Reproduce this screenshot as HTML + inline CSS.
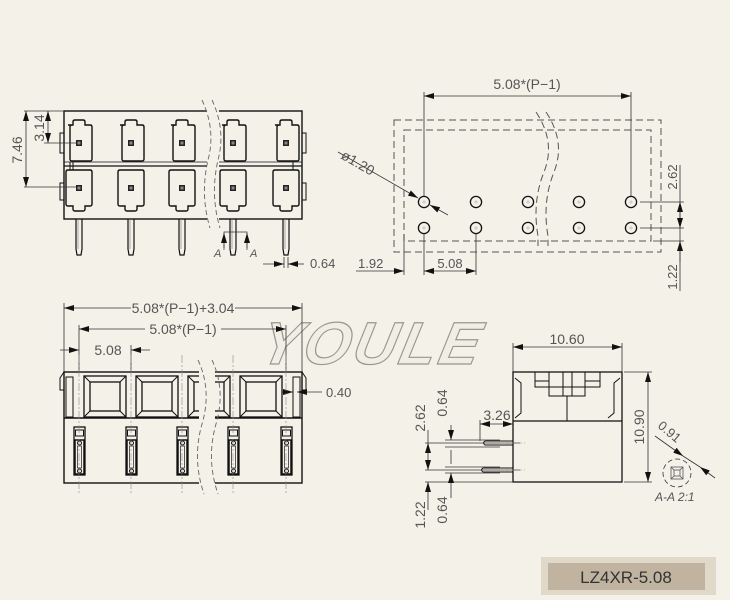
<!DOCTYPE html>
<html><head><meta charset="utf-8"><style>
html,body{margin:0;padding:0;background:#f4f1e8;}
svg{display:block}
text{font-family:"Liberation Sans",sans-serif;fill:#555}
</style></head><body>
<svg width="730" height="600" viewBox="0 0 730 600" xmlns="http://www.w3.org/2000/svg" font-size="12.5">
<defs>
<marker id="ar" viewBox="0 0 10 6" refX="10" refY="3" markerWidth="10" markerHeight="6" orient="auto-start-reverse" markerUnits="userSpaceOnUse"><path d="M0,0 L10,3 L0,6z" fill="#111"/></marker>
<g id="padT"><path d="M-11,-18 h5 v-3 q0,-2 2,-2 h8 q2,0 2,2 v3 h5 q2,0 2,2 v32 q0,2 -2,2 h-18 q-2,0 -2,-2 v-32 q0,-2 2,-2z" fill="none" stroke="#111" stroke-width="1.4"/><rect x="-3" y="-3" width="6" height="6" fill="#222"/><rect x="-1.5" y="-1.5" width="3" height="3" fill="#888"/></g>
<g id="padB"><path d="M-11,-18 h22 q2,0 2,2 v32 q0,2 -2,2 h-5 v3 q0,2 -2,2 h-8 q-2,0 -2,-2 v-3 h-5 q-2,0 -2,-2 v-32 q0,-2 2,-2z" fill="none" stroke="#111" stroke-width="1.4"/><rect x="-3" y="-3" width="6" height="6" fill="#222"/><rect x="-1.5" y="-1.5" width="3" height="3" fill="#888"/></g>
<g id="pin"><path d="M-3,0 v30 l1,6 h4 l1,-6 v-30" fill="none" stroke="#111" stroke-width="1.2"/><line x1="-1" y1="0" x2="-1" y2="30" stroke="#777" stroke-width="0.6"/></g>
<g id="sq"><rect x="0" y="0" width="42" height="41" fill="none" stroke="#111" stroke-width="1.3"/><rect x="6" y="6" width="30" height="29" fill="none" stroke="#111" stroke-width="1.3"/><path d="M0,0 L6,6 M42,0 L36,6 M0,41 L6,35 M42,41 L36,35" stroke="#111"/></g>
<g id="slot"><rect x="-5" y="0" width="11" height="48" fill="none" stroke="#111" stroke-width="1.3"/><rect x="-3.5" y="3" width="8" height="6" fill="none" stroke="#111"/><rect x="-4" y="13" width="9" height="34" fill="none" stroke="#111" stroke-width="1.5"/><rect x="-1.5" y="19" width="4" height="22" fill="none" stroke="#333" stroke-width="0.8"/><circle cx="0.5" cy="16" r="2" fill="none" stroke="#111"/><circle cx="0.5" cy="44" r="2" fill="none" stroke="#111"/></g>
<g id="hole"><circle r="5.6" fill="none" stroke="#111" stroke-width="1.3"/><path d="M-2,0h4M0,-2v4" stroke="#bbb" stroke-width="0.7"/></g>
</defs>

<g stroke="#111" fill="none">
<rect x="64" y="111" width="238" height="108" stroke-width="1.4"/>
<line x1="64" y1="166" x2="302" y2="166" stroke-width="1.2"/>
<line x1="64" y1="162" x2="302" y2="162" stroke-width="0.7"/>
<line x1="70" y1="162" x2="70" y2="170"/><line x1="73" y1="162" x2="73" y2="170"/>
<line x1="293" y1="162" x2="293" y2="170"/>
<rect x="60" y="133" width="4" height="20"/><rect x="60" y="183" width="4" height="17"/>
<rect x="302" y="133" width="4" height="20"/><rect x="302" y="183" width="4" height="17"/>
</g>
<use href="#padT" x="79" y="143"/><use href="#padT" x="131" y="143"/><use href="#padT" x="182" y="143"/><use href="#padT" x="233" y="143"/><use href="#padT" x="286" y="143"/>
<use href="#padB" x="79" y="188"/><use href="#padB" x="131" y="188"/><use href="#padB" x="182" y="188"/><use href="#padB" x="233" y="188"/><use href="#padB" x="286" y="188"/>
<use href="#pin" x="79" y="219"/><use href="#pin" x="131" y="219"/><use href="#pin" x="182" y="219"/><use href="#pin" x="233" y="219"/><use href="#pin" x="286" y="219"/>
<rect x="207" y="100" width="12" height="128" fill="#f4f1e8"/>
<g stroke="#666" fill="none" stroke-dasharray="5,3" stroke-width="0.9">
<path d="M202,100 q14,30 6,60 q-8,35 2,68"/><path d="M212,100 q14,30 6,60 q-8,35 2,68"/>
</g>
<g stroke="#333" stroke-width="0.8" fill="none">
<line x1="24" y1="111" x2="64" y2="111"/><line x1="44" y1="143" x2="76" y2="143"/><line x1="24" y1="187" x2="76" y2="187"/>
<line x1="26" y1="111" x2="26" y2="187" marker-start="url(#ar)" marker-end="url(#ar)"/>
<line x1="48" y1="111" x2="48" y2="143" marker-start="url(#ar)" marker-end="url(#ar)"/>
<path d="M224,250 V232 H247 V250" stroke-width="0.7"/>
<line x1="224" y1="248" x2="224" y2="233" marker-end="url(#ar)"/>
<line x1="247" y1="248" x2="247" y2="233" marker-end="url(#ar)"/>
<line x1="284" y1="257" x2="284" y2="268"/><line x1="288" y1="257" x2="288" y2="268"/>
<line x1="263" y1="264" x2="284" y2="264" marker-end="url(#ar)"/>
<line x1="304" y1="264" x2="288" y2="264" marker-end="url(#ar)"/>
</g>
<text transform="translate(22,150) rotate(-90)" text-anchor="middle" font-size="14">7.46</text>
<text transform="translate(44,128) rotate(-90)" text-anchor="middle" font-size="14">3.14</text>
<text x="214" y="257" font-style="italic" font-size="11">A</text>
<text x="250" y="257" font-style="italic" font-size="11">A</text>
<text x="310" y="268" font-size="13">0.64</text>

<g stroke="#555" fill="none" stroke-dasharray="7,4" stroke-width="1">
<rect x="394" y="120" width="267" height="132"/>
<rect x="404" y="130" width="247" height="111"/>
<path d="M536,112 q20,30 8,60 q-12,30 -6,64 v10" /><path d="M546,112 q20,30 8,60 q-12,30 -6,64 v10"/>
</g>
<use href="#hole" x="424" y="202"/><use href="#hole" x="476" y="202"/><use href="#hole" x="528" y="202"/><use href="#hole" x="579" y="202"/><use href="#hole" x="631" y="202"/>
<use href="#hole" x="424" y="228"/><use href="#hole" x="476" y="228"/><use href="#hole" x="528" y="228"/><use href="#hole" x="579" y="228"/><use href="#hole" x="631" y="228"/>
<g stroke="#333" stroke-width="0.8" fill="none">
<line x1="424" y1="92" x2="424" y2="196"/><line x1="631" y1="92" x2="631" y2="196"/>
<line x1="424" y1="96" x2="631" y2="96" marker-start="url(#ar)" marker-end="url(#ar)"/>
<line x1="338" y1="152" x2="418" y2="198" marker-end="url(#ar)"/>
<line x1="448" y1="215" x2="430" y2="205" marker-end="url(#ar)"/>
<line x1="404" y1="234" x2="404" y2="275"/><line x1="424" y1="234" x2="424" y2="275"/><line x1="476" y1="234" x2="476" y2="275"/>
<line x1="356" y1="271" x2="404" y2="271" marker-end="url(#ar)"/>
<line x1="424" y1="271" x2="476" y2="271" marker-start="url(#ar)" marker-end="url(#ar)"/>
<line x1="640" y1="202" x2="684" y2="202"/><line x1="640" y1="228" x2="684" y2="228"/><line x1="653" y1="241" x2="684" y2="241"/>
<line x1="680" y1="165" x2="680" y2="291"/>
<line x1="680" y1="202" x2="680" y2="228" marker-start="url(#ar)" marker-end="url(#ar)"/>
<line x1="680" y1="262" x2="680" y2="241" marker-end="url(#ar)"/>
</g>
<text x="527" y="89" text-anchor="middle" font-size="14">5.08*(P−1)</text>
<text transform="translate(340,158) rotate(30)" font-size="14">ø1.20</text>
<text x="358" y="268" font-size="13">1.92</text>
<text x="450" y="268" text-anchor="middle" font-size="13">5.08</text>
<text transform="translate(677,177) rotate(-90)" text-anchor="middle" font-size="13">2.62</text>
<text transform="translate(677,277) rotate(-90)" text-anchor="middle" font-size="13">1.22</text>

<text x="258" y="364" font-size="60" font-weight="bold" font-style="italic" transform="skewX(-12) translate(77,0)" style="fill:#f1eee5;stroke:#9a978f;stroke-width:1.2;letter-spacing:3px;font-family:'Liberation Sans',sans-serif">YOULE</text>

<g stroke="#333" stroke-width="0.8" fill="none">
<line x1="64" y1="303" x2="64" y2="372"/><line x1="302" y1="303" x2="302" y2="372"/>
<line x1="64" y1="308" x2="302" y2="308" marker-start="url(#ar)" marker-end="url(#ar)"/>
<line x1="79" y1="325" x2="79" y2="372"/><line x1="286" y1="325" x2="286" y2="372"/>
<line x1="79" y1="329" x2="286" y2="329" marker-start="url(#ar)" marker-end="url(#ar)"/>
<line x1="60" y1="350" x2="79" y2="350" marker-end="url(#ar)"/>
<line x1="150" y1="350" x2="131" y2="350" marker-end="url(#ar)"/>
<line x1="131" y1="345" x2="131" y2="372"/>
<line x1="282" y1="392" x2="293" y2="392" marker-end="url(#ar)"/>
<line x1="322" y1="392" x2="297" y2="392" marker-end="url(#ar)"/>
</g>
<rect x="131" y="300" width="104" height="15" fill="#f4f1e8"/>
<rect x="145" y="321" width="76" height="15" fill="#f4f1e8"/>
<rect x="92" y="342" width="32" height="15" fill="#f4f1e8"/>
<text x="183" y="313" text-anchor="middle" font-size="14">5.08*(P−1)+3.04</text>
<text x="183" y="334" text-anchor="middle" font-size="14">5.08*(P−1)</text>
<text x="108" y="355" text-anchor="middle" font-size="14">5.08</text>
<text x="326" y="397" font-size="13">0.40</text>
<g stroke="#111" fill="none" stroke-width="1.4">
<rect x="64" y="372" width="238" height="111"/>
<line x1="64" y1="418" x2="302" y2="418"/>
<path d="M64,372 l-4,6 v12 h4 M302,372 l4,6 v12 h-4" stroke-width="1"/>
<rect x="66" y="377" width="7" height="40" stroke-width="1"/>
<rect x="293" y="377" width="7" height="40" stroke-width="1"/>
</g>
<use href="#sq" x="84" y="376"/><use href="#sq" x="136" y="376"/><use href="#sq" x="188" y="376"/><use href="#sq" x="240" y="376"/>
<use href="#slot" x="79" y="427"/><use href="#slot" x="131" y="427"/><use href="#slot" x="182" y="427"/><use href="#slot" x="233" y="427"/><use href="#slot" x="286" y="427"/>
<rect x="199" y="360" width="16" height="135" fill="#f4f1e8"/>
<g stroke="#666" fill="none" stroke-dasharray="5,3" stroke-width="0.9">
<path d="M198,360 q14,30 4,64 q-10,35 2,70"/><path d="M212,360 q14,30 4,64 q-10,35 2,70"/>
</g>
<g stroke="#888" stroke-width="0.6" stroke-dasharray="8,2,2,2">
<line x1="79" y1="355" x2="79" y2="495"/><line x1="131" y1="355" x2="131" y2="495"/><line x1="182" y1="355" x2="182" y2="495"/><line x1="233" y1="355" x2="233" y2="495"/><line x1="286" y1="355" x2="286" y2="495"/>
</g>

<g stroke="#111" fill="none" stroke-width="1.3">
<rect x="513" y="372" width="109" height="110"/>
<line x1="513" y1="421" x2="622" y2="421"/>
<line x1="567" y1="396" x2="567" y2="421" stroke-width="1"/>
<path d="M535,372 v15 h65 v-15 M549,372 v24 h36 v-24 M563,372 v24 M572,372 v24 M535,381 h14 M585,381 h15" stroke-width="1"/>
<path d="M515,378 l6,5 v30 l-6,5 M620,378 l-6,5 v30 l-6,5" stroke-width="1"/>
<path d="M513,441 h-28 q-3,2 0,4 h28" stroke-width="1"/>
<path d="M513,468 h-30 q-3,2 0,4 h30" stroke-width="1"/>
</g>
<g stroke="#333" stroke-width="0.8" fill="none">
<line x1="513" y1="343" x2="513" y2="372"/><line x1="622" y1="343" x2="622" y2="372"/>
<line x1="513" y1="347" x2="622" y2="347" marker-start="url(#ar)" marker-end="url(#ar)"/>
<line x1="624" y1="372" x2="652" y2="372"/><line x1="624" y1="482" x2="652" y2="482"/>
<line x1="648" y1="372" x2="648" y2="482" marker-start="url(#ar)" marker-end="url(#ar)"/>
<line x1="480" y1="420" x2="480" y2="441"/>
<line x1="480" y1="424" x2="513" y2="424" marker-start="url(#ar)" marker-end="url(#ar)"/>
<line x1="425" y1="443" x2="520" y2="443"/><line x1="445" y1="440" x2="500" y2="440"/><line x1="445" y1="447" x2="500" y2="447"/>
<line x1="425" y1="470" x2="520" y2="470"/><line x1="445" y1="467" x2="500" y2="467"/><line x1="445" y1="473" x2="500" y2="473"/>
<line x1="425" y1="482" x2="513" y2="482"/>
<line x1="428" y1="443" x2="428" y2="470" marker-start="url(#ar)" marker-end="url(#ar)"/>
<line x1="428" y1="430" x2="428" y2="443"/>
<line x1="428" y1="510" x2="428" y2="482" marker-end="url(#ar)"/>
<line x1="451" y1="425" x2="451" y2="440" marker-end="url(#ar)"/>
<line x1="451" y1="450" x2="451" y2="464"/>
<line x1="451" y1="498" x2="451" y2="473" marker-end="url(#ar)"/>
<line x1="655" y1="436" x2="683" y2="456" marker-end="url(#ar)"/>
<line x1="715" y1="478" x2="700" y2="467" marker-end="url(#ar)"/>
<line x1="683" y1="456" x2="700" y2="467"/>
<circle cx="677" cy="473" r="14" stroke-dasharray="5,3"/>
<rect x="671" y="467" width="12" height="12" stroke="#555"/><rect x="674" y="470" width="6" height="6" stroke="#555"/>
<path d="M671,467l3,3M683,467l-3,3M671,479l3,-3M683,479l-3,-3" stroke="#555"/>
</g>
<g stroke="#888" stroke-width="0.5" stroke-dasharray="6,2"><line x1="500" y1="443" x2="525" y2="443"/><line x1="500" y1="470" x2="525" y2="470"/></g>
<text x="567" y="344" text-anchor="middle" font-size="14">10.60</text>
<text transform="translate(644,427) rotate(-90)" text-anchor="middle" font-size="14">10.90</text>
<text x="497" y="420" text-anchor="middle" font-size="14">3.26</text>
<text transform="translate(425,418) rotate(-90)" text-anchor="middle" font-size="14">2.62</text>
<text transform="translate(447,403) rotate(-90)" text-anchor="middle" font-size="14">0.64</text>
<text transform="translate(425,515) rotate(-90)" text-anchor="middle" font-size="14">1.22</text>
<text transform="translate(447,510) rotate(-90)" text-anchor="middle" font-size="14">0.64</text>
<text transform="translate(657,427) rotate(40)" font-size="13">0.91</text>
<text x="655" y="501" font-style="italic" font-size="12">A-A 2:1</text>

<rect x="541" y="557" width="175" height="38" fill="#e0d8c8"/>
<rect x="548" y="563" width="157" height="27" fill="#c0b4a0"/>
<text x="626" y="583" text-anchor="middle" font-size="17" style="fill:#333">LZ4XR-5.08</text>
</svg>
</body></html>
